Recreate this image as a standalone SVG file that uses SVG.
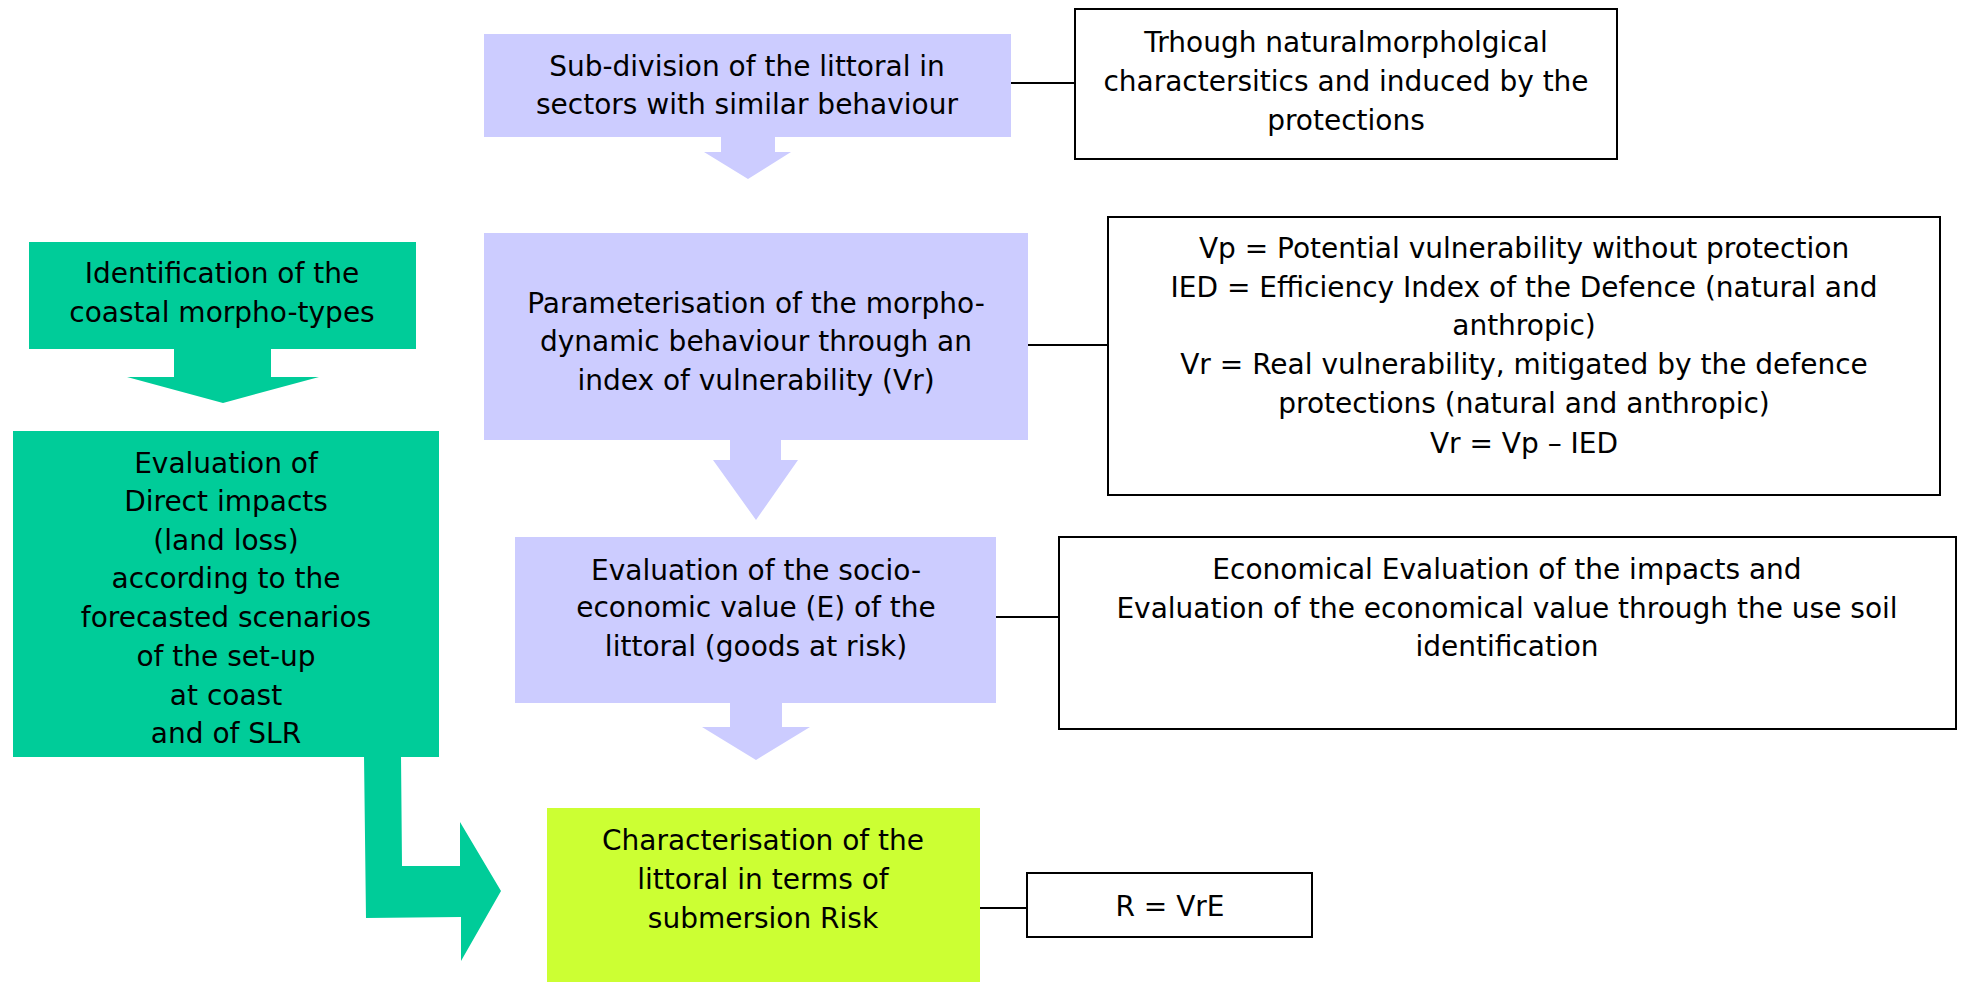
<svg xmlns="http://www.w3.org/2000/svg" width="1962" height="982" viewBox="0 0 1962 982">
<style>
text{font-family:"DejaVu Sans","Liberation Sans",sans-serif;font-size:28px;fill:#000;text-anchor:middle}
.v{fill:#CCCCFF}
.g{fill:#00CC99}
.l{fill:#CCFF33}
.w{fill:#fff;stroke:#000;stroke-width:2}
.c{stroke:#000;stroke-width:2;fill:none}
</style>
<rect width="1962" height="982" fill="#fff"/>
<g id="connectors">
<line class="c" x1="1011" y1="83" x2="1075" y2="83"/>
<line class="c" x1="1028" y1="345" x2="1108" y2="345"/>
<line class="c" x1="996" y1="617" x2="1059" y2="617"/>
<line class="c" x1="980" y1="908" x2="1027" y2="908"/>
<polygon class="v" points="721,135 775,135 775,152 791,152 748,179 704,152 721,152"/>
<polygon class="v" points="730,438 781,438 781,460 798,460 756,520 713,460 730,460"/>
<polygon class="v" points="730,701 782,701 782,727 810,727 756,760 702,727 730,727"/>
<polygon class="g" points="174,347 271,347 271,377 319,377 223,403 127,377 174,377"/>
<polygon class="g" points="364,755 401,755 402,866 460,866 460,822 501,891 461,961 461,917 366,918"/>
</g>
<g id="n-subdivision">
<rect class="v" x="484" y="34" width="527" height="103"/>
<text x="747" y="76">Sub-division of the littoral in</text>
<text x="747" y="114">sectors with similar behaviour</text>
</g>
<g id="n-through">
<rect class="w" x="1075" y="9" width="542" height="150"/>
<text x="1346" y="52">Trhough naturalmorpholgical</text>
<text x="1346" y="91">charactersitics and induced by the</text>
<text x="1346" y="130">protections</text>
</g>
<g id="n-param">
<rect class="v" x="484" y="233" width="544" height="207"/>
<text x="756" y="313">Parameterisation of the morpho-</text>
<text x="756" y="351">dynamic behaviour through an</text>
<text x="756" y="390">index of vulnerability (Vr)</text>
</g>
<g id="n-vp">
<rect class="w" x="1108" y="217" width="832" height="278"/>
<text x="1524" y="258">Vp = Potential vulnerability without protection</text>
<text x="1524" y="297">IED = Efficiency Index of the Defence (natural and</text>
<text x="1524" y="335">anthropic)</text>
<text x="1524" y="374">Vr = Real vulnerability, mitigated by the defence</text>
<text x="1524" y="413">protections (natural and anthropic)</text>
<text x="1524" y="453">Vr = Vp – IED</text>
</g>
<g id="n-socio">
<rect class="v" x="515" y="537" width="481" height="166"/>
<text x="756" y="580">Evaluation of the socio-</text>
<text x="756" y="617">economic value (E) of the</text>
<text x="756" y="656">littoral (goods at risk)</text>
</g>
<g id="n-econ">
<rect class="w" x="1059" y="537" width="897" height="192"/>
<text x="1507" y="579">Economical Evaluation of the impacts and</text>
<text x="1507" y="618">Evaluation of the economical value through the use soil</text>
<text x="1507" y="656">identification</text>
</g>
<g id="n-risk">
<rect class="l" x="547" y="808" width="433" height="174"/>
<text x="763" y="850">Characterisation of the</text>
<text x="763" y="889">littoral in terms of</text>
<text x="763" y="928">submersion Risk</text>
</g>
<g id="n-r">
<rect class="w" x="1027" y="873" width="285" height="64"/>
<text x="1170" y="916">R = VrE</text>
</g>
<g id="n-morpho">
<rect class="g" x="29" y="242" width="387" height="107"/>
<text x="222" y="283">Identification of the</text>
<text x="222" y="322">coastal morpho-types</text>
</g>
<g id="n-direct">
<rect class="g" x="13" y="431" width="426" height="326"/>
<text x="226" y="473">Evaluation of</text>
<text x="226" y="511">Direct impacts</text>
<text x="226" y="550">(land loss)</text>
<text x="226" y="588">according to the</text>
<text x="226" y="627">forecasted scenarios</text>
<text x="226" y="666">of the set-up</text>
<text x="226" y="705">at coast</text>
<text x="226" y="743">and of SLR</text>
</g>
</svg>
